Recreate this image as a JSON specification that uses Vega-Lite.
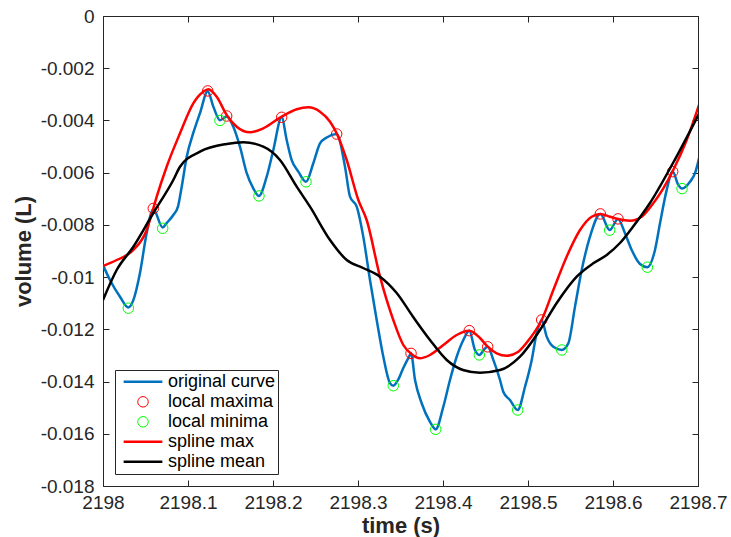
{
  "$schema": "https://vega.github.io/schema/vega-lite/v6.json",
  "width": 595,
  "height": 470,
  "autosize": "none",
  "padding": {"left": 103, "top": 16, "right": 33, "bottom": 51},
  "background": "white",
  "config": {
    "font": "Liberation Sans",
    "view": {"stroke": null},
    "axis": {
      "grid": false,
      "domainColor": "#262626",
      "domainWidth": 1,
      "tickColor": "#262626",
      "tickWidth": 1,
      "tickSize": -6,
      "labelColor": "#262626",
      "labelFontSize": 19,
      "titleColor": "#262626",
      "titleFontSize": 22,
      "titleFontWeight": "bold"
    },
    "legend": {
      "title": null,
      "orient": "none",
      "legendX": 12,
      "legendY": 354,
      "labelFontSize": 18,
      "labelColor": "#000000",
      "labelOffset": 4,
      "symbolOffset": 5,
      "labelLimit": 0,
      "padding": 2,
      "clipHeight": 19.6,
      "rowPadding": 0,
      "strokeColor": "#262626",
      "fillColor": "#ffffff"
    }
  },
  "datasets": {
    "curve": [
      {"s": "original curve", "t": 2198.0, "v": -0.00954},
      {"s": "original curve", "t": 2198.0082, "v": -0.01011},
      {"s": "original curve", "t": 2198.02, "v": -0.01075},
      {"s": "original curve", "t": 2198.0298, "v": -0.01116},
      {"s": "original curve", "t": 2198.0357, "v": -0.01088},
      {"s": "original curve", "t": 2198.0435, "v": -0.00984},
      {"s": "original curve", "t": 2198.0514, "v": -0.00831},
      {"s": "original curve", "t": 2198.0592, "v": -0.0074},
      {"s": "original curve", "t": 2198.0702, "v": -0.0081},
      {"s": "original curve", "t": 2198.0749, "v": -0.00793},
      {"s": "original curve", "t": 2198.0827, "v": -0.00762},
      {"s": "original curve", "t": 2198.0882, "v": -0.0073},
      {"s": "original curve", "t": 2198.0926, "v": -0.00654},
      {"s": "original curve", "t": 2198.0985, "v": -0.00539},
      {"s": "original curve", "t": 2198.1062, "v": -0.00448},
      {"s": "original curve", "t": 2198.1141, "v": -0.00372},
      {"s": "original curve", "t": 2198.1232, "v": -0.00288},
      {"s": "original curve", "t": 2198.1298, "v": -0.00347},
      {"s": "original curve", "t": 2198.1376, "v": -0.00399},
      {"s": "original curve", "t": 2198.1455, "v": -0.00385},
      {"s": "original curve", "t": 2198.1533, "v": -0.00424},
      {"s": "original curve", "t": 2198.1612, "v": -0.00501},
      {"s": "original curve", "t": 2198.1691, "v": -0.00602},
      {"s": "original curve", "t": 2198.1768, "v": -0.0066},
      {"s": "original curve", "t": 2198.1835, "v": -0.00689},
      {"s": "original curve", "t": 2198.1926, "v": -0.00615},
      {"s": "original curve", "t": 2198.2004, "v": -0.00513},
      {"s": "original curve", "t": 2198.2102, "v": -0.00388},
      {"s": "original curve", "t": 2198.2161, "v": -0.00475},
      {"s": "original curve", "t": 2198.222, "v": -0.00552},
      {"s": "original curve", "t": 2198.2298, "v": -0.00596},
      {"s": "original curve", "t": 2198.2388, "v": -0.00635},
      {"s": "original curve", "t": 2198.2474, "v": -0.00564},
      {"s": "original curve", "t": 2198.2553, "v": -0.00488},
      {"s": "original curve", "t": 2198.2632, "v": -0.00465},
      {"s": "original curve", "t": 2198.2749, "v": -0.00452},
      {"s": "original curve", "t": 2198.2847, "v": -0.00577},
      {"s": "original curve", "t": 2198.2906, "v": -0.00692},
      {"s": "original curve", "t": 2198.2985, "v": -0.0073},
      {"s": "original curve", "t": 2198.3062, "v": -0.00845},
      {"s": "original curve", "t": 2198.3141, "v": -0.01011},
      {"s": "original curve", "t": 2198.322, "v": -0.01164},
      {"s": "original curve", "t": 2198.3298, "v": -0.01305},
      {"s": "original curve", "t": 2198.3376, "v": -0.01406},
      {"s": "original curve", "t": 2198.3415, "v": -0.01416},
      {"s": "original curve", "t": 2198.3471, "v": -0.01394},
      {"s": "original curve", "t": 2198.3533, "v": -0.01348},
      {"s": "original curve", "t": 2198.3592, "v": -0.0131},
      {"s": "original curve", "t": 2198.3624, "v": -0.01292},
      {"s": "original curve", "t": 2198.3671, "v": -0.01394},
      {"s": "original curve", "t": 2198.3749, "v": -0.01483},
      {"s": "original curve", "t": 2198.3847, "v": -0.01554},
      {"s": "original curve", "t": 2198.3914, "v": -0.01583},
      {"s": "original curve", "t": 2198.4004, "v": -0.01496},
      {"s": "original curve", "t": 2198.4082, "v": -0.01394},
      {"s": "original curve", "t": 2198.4161, "v": -0.01305},
      {"s": "original curve", "t": 2198.4239, "v": -0.01241},
      {"s": "original curve", "t": 2198.4309, "v": -0.01205},
      {"s": "original curve", "t": 2198.4376, "v": -0.01279},
      {"s": "original curve", "t": 2198.4427, "v": -0.01298},
      {"s": "original curve", "t": 2198.4494, "v": -0.01273},
      {"s": "original curve", "t": 2198.4526, "v": -0.01267},
      {"s": "original curve", "t": 2198.4592, "v": -0.01317},
      {"s": "original curve", "t": 2198.4671, "v": -0.01394},
      {"s": "original curve", "t": 2198.4709, "v": -0.01439},
      {"s": "original curve", "t": 2198.4788, "v": -0.01471},
      {"s": "original curve", "t": 2198.4879, "v": -0.01509},
      {"s": "original curve", "t": 2198.4965, "v": -0.0142},
      {"s": "original curve", "t": 2198.5044, "v": -0.01317},
      {"s": "original curve", "t": 2198.5102, "v": -0.01215},
      {"s": "original curve", "t": 2198.5161, "v": -0.01164},
      {"s": "original curve", "t": 2198.522, "v": -0.01228},
      {"s": "original curve", "t": 2198.5298, "v": -0.01267},
      {"s": "original curve", "t": 2198.5397, "v": -0.01279},
      {"s": "original curve", "t": 2198.5474, "v": -0.01254},
      {"s": "original curve", "t": 2198.5553, "v": -0.01113},
      {"s": "original curve", "t": 2198.5632, "v": -0.00973},
      {"s": "original curve", "t": 2198.5729, "v": -0.00845},
      {"s": "original curve", "t": 2198.5851, "v": -0.00758},
      {"s": "original curve", "t": 2198.5961, "v": -0.0082},
      {"s": "original curve", "t": 2198.6059, "v": -0.00777},
      {"s": "original curve", "t": 2198.6141, "v": -0.00832},
      {"s": "original curve", "t": 2198.622, "v": -0.00896},
      {"s": "original curve", "t": 2198.6318, "v": -0.0095},
      {"s": "original curve", "t": 2198.6404, "v": -0.00962},
      {"s": "original curve", "t": 2198.6494, "v": -0.00896},
      {"s": "original curve", "t": 2198.6553, "v": -0.00794},
      {"s": "original curve", "t": 2198.6632, "v": -0.00666},
      {"s": "original curve", "t": 2198.6702, "v": -0.00596},
      {"s": "original curve", "t": 2198.6768, "v": -0.00647},
      {"s": "original curve", "t": 2198.6812, "v": -0.00661},
      {"s": "original curve", "t": 2198.6906, "v": -0.00635},
      {"s": "original curve", "t": 2198.6965, "v": -0.00602},
      {"s": "original curve", "t": 2198.7024, "v": -0.00529}
    ],
    "extrema": [
      {"s": "local maxima", "t": 2198.0592, "v": -0.00737},
      {"s": "local maxima", "t": 2198.1232, "v": -0.00287},
      {"s": "local maxima", "t": 2198.1455, "v": -0.00383},
      {"s": "local maxima", "t": 2198.2102, "v": -0.00388},
      {"s": "local maxima", "t": 2198.2749, "v": -0.00452},
      {"s": "local maxima", "t": 2198.3624, "v": -0.01292},
      {"s": "local maxima", "t": 2198.4309, "v": -0.01205},
      {"s": "local maxima", "t": 2198.4526, "v": -0.01267},
      {"s": "local maxima", "t": 2198.5161, "v": -0.01164},
      {"s": "local maxima", "t": 2198.5851, "v": -0.00758},
      {"s": "local maxima", "t": 2198.6059, "v": -0.00777},
      {"s": "local maxima", "t": 2198.6702, "v": -0.00596},
      {"s": "local minima", "t": 2198.0298, "v": -0.01119},
      {"s": "local minima", "t": 2198.0702, "v": -0.00813},
      {"s": "local minima", "t": 2198.1376, "v": -0.004},
      {"s": "local minima", "t": 2198.1835, "v": -0.00689},
      {"s": "local minima", "t": 2198.2388, "v": -0.00635},
      {"s": "local minima", "t": 2198.3415, "v": -0.01416},
      {"s": "local minima", "t": 2198.3914, "v": -0.01583},
      {"s": "local minima", "t": 2198.4427, "v": -0.01298},
      {"s": "local minima", "t": 2198.4879, "v": -0.01509},
      {"s": "local minima", "t": 2198.5397, "v": -0.01279},
      {"s": "local minima", "t": 2198.5961, "v": -0.0082},
      {"s": "local minima", "t": 2198.6404, "v": -0.00962},
      {"s": "local minima", "t": 2198.6812, "v": -0.00661}
    ],
    "splines": [
      {"s": "spline max", "t": 2198.0, "v": -0.009575},
      {"s": "spline max", "t": 2198.0161, "v": -0.009345},
      {"s": "spline max", "t": 2198.0357, "v": -0.008962},
      {"s": "spline max", "t": 2198.0514, "v": -0.008196},
      {"s": "spline max", "t": 2198.0592, "v": -0.007365},
      {"s": "spline max", "t": 2198.0632, "v": -0.00692},
      {"s": "spline max", "t": 2198.0749, "v": -0.005772},
      {"s": "spline max", "t": 2198.0906, "v": -0.004492},
      {"s": "spline max", "t": 2198.1062, "v": -0.003343},
      {"s": "spline max", "t": 2198.118, "v": -0.002899},
      {"s": "spline max", "t": 2198.1239, "v": -0.002807},
      {"s": "spline max", "t": 2198.1338, "v": -0.003091},
      {"s": "spline max", "t": 2198.1455, "v": -0.003791},
      {"s": "spline max", "t": 2198.1573, "v": -0.00424},
      {"s": "spline max", "t": 2198.1729, "v": -0.004454},
      {"s": "spline max", "t": 2198.1886, "v": -0.004301},
      {"s": "spline max", "t": 2198.2102, "v": -0.003857},
      {"s": "spline max", "t": 2198.2279, "v": -0.003573},
      {"s": "spline max", "t": 2198.2415, "v": -0.003497},
      {"s": "spline max", "t": 2198.2553, "v": -0.003665},
      {"s": "spline max", "t": 2198.2671, "v": -0.004048},
      {"s": "spline max", "t": 2198.2749, "v": -0.004492},
      {"s": "spline max", "t": 2198.2867, "v": -0.005515},
      {"s": "spline max", "t": 2198.3004, "v": -0.007047},
      {"s": "spline max", "t": 2198.3102, "v": -0.007813},
      {"s": "spline max", "t": 2198.3259, "v": -0.009984},
      {"s": "spline max", "t": 2198.3415, "v": -0.011643},
      {"s": "spline max", "t": 2198.3533, "v": -0.0126},
      {"s": "spline max", "t": 2198.3632, "v": -0.012956},
      {"s": "spline max", "t": 2198.3729, "v": -0.013109},
      {"s": "spline max", "t": 2198.3847, "v": -0.012983},
      {"s": "spline max", "t": 2198.4004, "v": -0.0126},
      {"s": "spline max", "t": 2198.4161, "v": -0.012217},
      {"s": "spline max", "t": 2198.4309, "v": -0.012052},
      {"s": "spline max", "t": 2198.4435, "v": -0.012332},
      {"s": "spline max", "t": 2198.4526, "v": -0.012665},
      {"s": "spline max", "t": 2198.4632, "v": -0.012918},
      {"s": "spline max", "t": 2198.4749, "v": -0.01301},
      {"s": "spline max", "t": 2198.4886, "v": -0.012857},
      {"s": "spline max", "t": 2198.5024, "v": -0.012344},
      {"s": "spline max", "t": 2198.5161, "v": -0.011643},
      {"s": "spline max", "t": 2198.5298, "v": -0.010494},
      {"s": "spline max", "t": 2198.5455, "v": -0.009218},
      {"s": "spline max", "t": 2198.5612, "v": -0.008196},
      {"s": "spline max", "t": 2198.5749, "v": -0.007686},
      {"s": "spline max", "t": 2198.5851, "v": -0.007583},
      {"s": "spline max", "t": 2198.5965, "v": -0.007686},
      {"s": "spline max", "t": 2198.6059, "v": -0.007774},
      {"s": "spline max", "t": 2198.62, "v": -0.007839},
      {"s": "spline max", "t": 2198.6338, "v": -0.007686},
      {"s": "spline max", "t": 2198.6474, "v": -0.007173},
      {"s": "spline max", "t": 2198.6592, "v": -0.006599},
      {"s": "spline max", "t": 2198.6709, "v": -0.005898},
      {"s": "spline max", "t": 2198.6867, "v": -0.004749},
      {"s": "spline max", "t": 2198.7024, "v": -0.003282},
      {"s": "spline mean", "t": 2198.0, "v": -0.010877},
      {"s": "spline mean", "t": 2198.0161, "v": -0.009728},
      {"s": "spline mean", "t": 2198.0357, "v": -0.008835},
      {"s": "spline mean", "t": 2198.0592, "v": -0.007545},
      {"s": "spline mean", "t": 2198.0827, "v": -0.006281},
      {"s": "spline mean", "t": 2198.0906, "v": -0.005772},
      {"s": "spline mean", "t": 2198.1141, "v": -0.005197},
      {"s": "spline mean", "t": 2198.1455, "v": -0.004902},
      {"s": "spline mean", "t": 2198.1651, "v": -0.004837},
      {"s": "spline mean", "t": 2198.1886, "v": -0.005006},
      {"s": "spline mean", "t": 2198.2082, "v": -0.005515},
      {"s": "spline mean", "t": 2198.2279, "v": -0.006537},
      {"s": "spline mean", "t": 2198.2435, "v": -0.007303},
      {"s": "spline mean", "t": 2198.2671, "v": -0.008579},
      {"s": "spline mean", "t": 2198.2867, "v": -0.009345},
      {"s": "spline mean", "t": 2198.3059, "v": -0.009651},
      {"s": "spline mean", "t": 2198.3259, "v": -0.009984},
      {"s": "spline mean", "t": 2198.3455, "v": -0.010609},
      {"s": "spline mean", "t": 2198.3647, "v": -0.011516},
      {"s": "spline mean", "t": 2198.3847, "v": -0.012409},
      {"s": "spline mean", "t": 2198.4044, "v": -0.013174},
      {"s": "spline mean", "t": 2198.4235, "v": -0.013557},
      {"s": "spline mean", "t": 2198.4435, "v": -0.013661},
      {"s": "spline mean", "t": 2198.4671, "v": -0.013557},
      {"s": "spline mean", "t": 2198.4906, "v": -0.013048},
      {"s": "spline mean", "t": 2198.5141, "v": -0.012026},
      {"s": "spline mean", "t": 2198.5338, "v": -0.010991},
      {"s": "spline mean", "t": 2198.5573, "v": -0.009984},
      {"s": "spline mean", "t": 2198.5768, "v": -0.009471},
      {"s": "spline mean", "t": 2198.5926, "v": -0.009153},
      {"s": "spline mean", "t": 2198.6082, "v": -0.008694},
      {"s": "spline mean", "t": 2198.6235, "v": -0.008069},
      {"s": "spline mean", "t": 2198.6435, "v": -0.007162},
      {"s": "spline mean", "t": 2198.6706, "v": -0.00563},
      {"s": "spline mean", "t": 2198.7024, "v": -0.003665}
    ]
  },
  "layer": [
    {
      "data": {"name": "curve"},
      "mark": {"type": "line", "interpolate": "monotone", "strokeWidth": 2.5, "clip": true},
      "encoding": {
        "x": {
          "field": "t", "type": "quantitative",
          "scale": {"domain": [2198, 2198.7], "nice": false, "zero": false},
          "axis": {
            "orient": "bottom", "title": "time (s)",
            "values": [2198, 2198.1, 2198.2, 2198.3, 2198.4, 2198.5, 2198.6, 2198.7],
            "labelExpr": "'' + datum.value",
            "labelPadding": 13, "labelFlush": false,
            "titleBaseline": "alphabetic", "titleY": 46
          }
        },
        "y": {
          "field": "v", "type": "quantitative",
          "scale": {"domain": [-0.018, 0], "nice": false, "zero": false},
          "axis": {
            "orient": "left", "title": "volume (L)",
            "values": [-0.018, -0.016, -0.014, -0.012, -0.01, -0.008, -0.006, -0.004, -0.002, 0],
            "labelExpr": "'' + datum.value",
            "labelPadding": 15, "labelFlush": false,
            "titleBaseline": "alphabetic", "titleX": -73
          }
        },
        "color": {
          "field": "s", "type": "nominal",
          "scale": {
            "domain": ["original curve", "local maxima", "local minima", "spline max", "spline mean"],
            "range": ["#0072BD", "#FF0000", "#00FF00", "#FF0000", "#000000"]
          }
        }
      }
    },
    {
      "data": {"name": "extrema"},
      "mark": {"type": "point", "filled": false, "opacity": 1},
      "encoding": {
        "x": {"field": "t", "type": "quantitative", "scale": {"domain": [2198, 2198.7], "nice": false, "zero": false}, "axis": null},
        "y": {"field": "v", "type": "quantitative", "scale": {"domain": [-0.018, 0], "nice": false, "zero": false}, "axis": null},
        "color": {"field": "s", "type": "nominal"},
        "shape": {
          "field": "s", "type": "nominal",
          "scale": {
            "domain": ["original curve", "local maxima", "local minima", "spline max", "spline mean"],
            "range": ["stroke", "circle", "circle", "stroke", "stroke"]
          }
        },
        "size": {
          "field": "s", "type": "nominal",
          "scale": {
            "type": "ordinal",
            "domain": ["original curve", "local maxima", "local minima", "spline max", "spline mean"],
            "range": [1500, 110, 110, 1500, 1500]
          }
        },
        "strokeWidth": {
          "field": "s", "type": "nominal",
          "scale": {
            "type": "ordinal",
            "domain": ["original curve", "local maxima", "local minima", "spline max", "spline mean"],
            "range": [2.5, 1, 1, 2.5, 2.5]
          }
        }
      }
    },
    {
      "data": {"name": "splines"},
      "mark": {"type": "line", "interpolate": "monotone", "strokeWidth": 2.5, "clip": true},
      "encoding": {
        "x": {"field": "t", "type": "quantitative", "scale": {"domain": [2198, 2198.7], "nice": false, "zero": false}, "axis": null},
        "y": {"field": "v", "type": "quantitative", "scale": {"domain": [-0.018, 0], "nice": false, "zero": false}, "axis": null},
        "color": {"field": "s", "type": "nominal"}
      }
    },
    {
      "data": {"name": "extrema"},
      "mark": {"type": "point", "opacity": 0},
      "encoding": {
        "x": {
          "field": "t", "type": "quantitative",
          "scale": {"domain": [2198, 2198.7], "nice": false, "zero": false},
          "axis": {"orient": "top", "title": null, "labels": false,
                   "values": [2198, 2198.1, 2198.2, 2198.3, 2198.4, 2198.5, 2198.6, 2198.7]}
        },
        "y": {
          "field": "v", "type": "quantitative",
          "scale": {"domain": [-0.018, 0], "nice": false, "zero": false},
          "axis": {"orient": "right", "title": null, "labels": false,
                   "values": [-0.018, -0.016, -0.014, -0.012, -0.01, -0.008, -0.006, -0.004, -0.002, 0]}
        }
      }
    }
  ],
  "resolve": {"axis": {"x": "independent", "y": "independent"}}
}
